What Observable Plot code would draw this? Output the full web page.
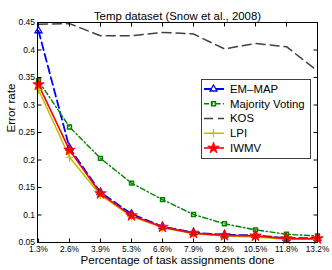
<!DOCTYPE html>
<html><head><meta charset="utf-8">
<script src="https://cdn.jsdelivr.net/npm/d3@7"></script>
<script src="https://cdn.jsdelivr.net/npm/@observablehq/plot@0.6"></script>
<style>body{margin:0;background:#fff}#chart{width:332px;height:270px}</style>
</head><body><div id="chart"></div>
<script>
const titleText = "Temp dataset (Snow et al., 2008)";
const xTitle = "Percentage of task assignments done";
const yTitle = "Error rate";
const xLabels = ["1.3%","2.6%","3.9%","5.3%","6.6%","7.9%","9.2%","10.5%","11.8%","13.2%"];
const yTicks = [0.05,0.1,0.15,0.2,0.25,0.3,0.35,0.4,0.45];
const seriesNames = ["EM\u2013MAP","Majority Voting","KOS","LPI","IWMV"];
const emMap    = [0.435,0.222,0.141,0.102,0.079,0.068,0.064,0.063,0.058,0.058];
const majority = [0.344,0.260,0.203,0.158,0.128,0.101,0.084,0.073,0.065,0.062];
const kos      = [0.447,0.448,0.426,0.426,0.432,0.429,0.402,0.412,0.406,0.362];
const lpi      = [0.328,0.205,0.136,0.097,0.077,0.066,0.062,0.060,0.056,0.056];
const iwmv     = [0.337,0.218,0.139,0.099,0.078,0.067,0.063,0.062,0.057,0.057];

const styles = [
  {color:"#0000ff", dash:"8,4", width:1.8, symbol:"triangle", r:2.6, fill:"none", sw:1.3},
  {color:"#008000", dash:"5,2.5,1.5,2.5", width:1.4, symbol:"square", r:2.2, fill:"none", sw:1.5},
  {color:"#404040", dash:"9,5", width:1.5, symbol:null},
  {color:"#bfbf00", dash:null, width:1.5, symbol:"plus", r:2.8, fill:"none", sw:1.2},
  {color:"#ff0000", dash:null, width:1.6, symbol:"star", r:3.6, fill:"#ff0000", sw:0.8}
];
const allValues = [emMap, majority, kos, lpi, iwmv];
const data = allValues.map((vals, si) => vals.map((v, i) => ({series: seriesNames[si], x: xLabels[i], y: v})));

const tickShape = {draw(ctx, l){ ctx.moveTo(0,0); ctx.lineTo(0,-l); }};
const font = "Liberation Sans, Arial, Helvetica, sans-serif";

const marks = [];
data.forEach((d, si) => {
  const s = styles[si];
  marks.push(Plot.line(d, {x:"x", y:"y", stroke:s.color, strokeWidth:s.width, strokeDasharray:s.dash || undefined, strokeLinejoin:"round"}));
});
data.forEach((d, si) => {
  const s = styles[si];
  if (s.symbol) marks.push(Plot.dot(d, {x:"x", y:"y", symbol:s.symbol, r:s.r, stroke:s.color, fill:s.fill, strokeWidth:s.sw}));
});

const tickOpts = {length:4, anchor:"start", shape:tickShape, stroke:"black", strokeWidth:1, strokeLinecap:"butt"};
marks.push(
  Plot.frame({stroke:"black", strokeWidth:1}),
  Plot.vector(xLabels, {x:d=>d, frameAnchor:"bottom", rotate:0, ...tickOpts}),
  Plot.vector(xLabels, {x:d=>d, frameAnchor:"top", rotate:180, ...tickOpts}),
  Plot.vector(yTicks, {y:d=>d, frameAnchor:"left", rotate:90, ...tickOpts}),
  Plot.vector(yTicks, {y:d=>d, frameAnchor:"right", rotate:-90, ...tickOpts}),
  Plot.axisX({anchor:"bottom", ticks:xLabels, tickSize:0, tickPadding:3.5, fontSize:8.3, label:null}),
  Plot.axisY({anchor:"left", ticks:yTicks, tickSize:0, tickPadding:2.5, fontSize:8.5, label:null, tickFormat:d=>String(+d.toFixed(2))}),
  Plot.text([titleText], {text:d=>d, frameAnchor:"top", dy:-11, fontSize:11.4, fill:"black"}),
  Plot.text([xTitle], {text:d=>d, frameAnchor:"bottom", dy:21.5, fontSize:11.6, fill:"black"}),
  Plot.text([yTitle], {text:d=>d, frameAnchor:"left", dx:-26, rotate:-90, fontSize:11.6, fill:"black"})
);

const svg = Plot.plot({
  width:332, height:270,
  marginLeft:37, marginRight:15, marginTop:22, marginBottom:28,
  style:{fontFamily:font, background:"white", color:"black"},
  x:{type:"point", domain:xLabels, padding:0, axis:null},
  y:{domain:[0.05,0.45], axis:null},
  marks
});
document.getElementById("chart").appendChild(svg);

// legend
const g = d3.select(svg).append("g")
  .style("font-family", font).style("font-size", "11.4px").style("text-anchor", "start");
const lx0 = 201, ly0 = 79, lw = 109, lh = 79;
g.append("rect").attr("x", lx0 + 0.5).attr("y", ly0 + 0.5).attr("width", lw).attr("height", lh)
  .style("fill", "white").style("stroke", "#404040").style("stroke-width", "1px");
seriesNames.forEach((name, i) => {
  const s = styles[i];
  const cy = ly0 + 10 + i * 14.75;
  g.append("line").attr("x1", lx0 + 3).attr("x2", lx0 + 23).attr("y1", cy).attr("y2", cy)
    .style("stroke", s.color).style("stroke-width", s.width + "px").style("stroke-dasharray", s.dash || "none").style("fill", "none");
  if (s.symbol) {
    const sym = {triangle:d3.symbolTriangle, square:d3.symbolSquare, plus:d3.symbolPlus, star:d3.symbolStar}[s.symbol];
    const size = s.r * s.r * Math.PI;
    g.append("path").attr("d", d3.symbol(sym, size)()).attr("transform", `translate(${lx0 + 12.5},${cy})`)
      .style("stroke", s.color).style("fill", s.fill).style("stroke-width", s.sw + "px");
  }
  g.append("text").attr("x", lx0 + 29).attr("y", cy).attr("dy", "0.35em").style("fill", "black").text(name);
});
</script></body></html>
